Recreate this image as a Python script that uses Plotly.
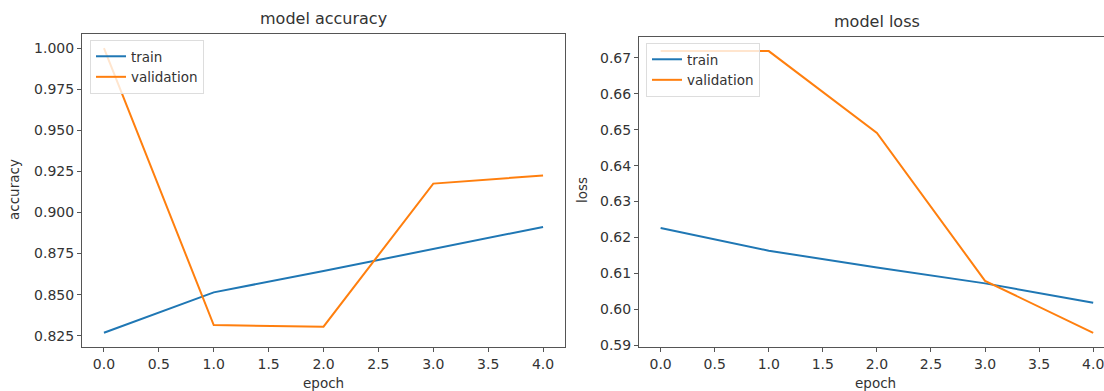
import plotly.graph_objects as go

epochs = [0, 1, 2, 3, 4]
acc_train = [0.8268, 0.8514, 0.8644, 0.8779, 0.8912]
acc_val = [1.0000, 0.8315, 0.8305, 0.9176, 0.9225]
loss_train = [0.6226, 0.6163, 0.6116, 0.6072, 0.6018]
loss_val = [0.6719, 0.6719, 0.6491, 0.6079, 0.5934]

W, H = 1104, 391
BLUE = "#1f77b4"
ORANGE = "#ff7f0e"
FONT = "DejaVu Sans"
TXT = "#333333"
SPINE = "#555555"

# pixel geometry of the two panels
L1, R1, T1, B1 = 82, 565, 34, 347
L2, R2, T2, B2 = 639, 1104, 37, 347

fig = go.Figure()
fig.add_trace(go.Scatter(x=epochs, y=acc_train, mode="lines", name="train",
                         line=dict(color=BLUE, width=2), xaxis="x", yaxis="y", legend="legend"))
fig.add_trace(go.Scatter(x=epochs, y=acc_val, mode="lines", name="validation",
                         line=dict(color=ORANGE, width=2), xaxis="x", yaxis="y", legend="legend"))
fig.add_trace(go.Scatter(x=epochs, y=loss_train, mode="lines", name="train",
                         line=dict(color=BLUE, width=2), xaxis="x2", yaxis="y2", legend="legend2"))
fig.add_trace(go.Scatter(x=epochs, y=loss_val, mode="lines", name="validation",
                         line=dict(color=ORANGE, width=2), xaxis="x2", yaxis="y2", legend="legend2"))

def pad(vals, frac=0.05):
    lo, hi = min(vals), max(vals)
    m = (hi - lo) * frac
    return [lo - m, hi + m]

axis_common = dict(showgrid=False, zeroline=False, showline=True, linecolor=SPINE, linewidth=1,
                   ticks="outside", ticklen=4, tickcolor=SPINE, automargin=False,
                   ticklabeloverflow="allow",
                   tickfont=dict(family=FONT, size=14, color=TXT))

fig.update_layout(
    width=W, height=H,
    margin=dict(l=0, r=0, t=0, b=0, pad=0, autoexpand=False),
    paper_bgcolor="white", plot_bgcolor="white",
    xaxis=dict(domain=[L1 / W, R1 / W], anchor="y", range=[-0.2, 4.2], dtick=0.5, tickformat=".1f",
               mirror=True, **axis_common),
    yaxis=dict(domain=[1 - B1 / H, 1 - T1 / H], anchor="x", range=pad(acc_train + acc_val),
               dtick=0.025, tickformat=".3f", mirror=True, **axis_common),
    xaxis2=dict(domain=[L2 / W, R2 / W], anchor="y2", range=[-0.2, 4.1], dtick=0.5, tickformat=".1f",
                mirror=True, **axis_common),
    yaxis2=dict(domain=[1 - B2 / H, 1 - T2 / H], anchor="x2", range=pad(loss_train + loss_val),
                dtick=0.01, tickformat=".2f", mirror=False, **axis_common),
    legend=dict(x=90 / W, y=1 - 40 / H, xanchor="left", yanchor="top",
                bgcolor="rgba(255,255,255,0.8)", bordercolor="#dddddd", borderwidth=1,
                font=dict(family=FONT, size=13.5, color=TXT)),
    legend2=dict(x=646 / W, y=1 - 43 / H, xanchor="left", yanchor="top",
                 bgcolor="rgba(255,255,255,0.8)", bordercolor="#dddddd", borderwidth=1,
                 font=dict(family=FONT, size=13.5, color=TXT)),
    showlegend=True,
)

annots = [
    dict(text="model accuracy", x=(L1 + R1) / 2 / W, y=1 - 18 / H, size=16),
    dict(text="model loss", x=(L2 + 1115) / 2 / W, y=1 - 22 / H, size=16),
    dict(text="epoch", x=(L1 + R1) / 2 / W, y=1 - 383 / H, size=13.5),
    dict(text="epoch", x=875 / W, y=1 - 383 / H, size=13.5),
]
for a in annots:
    fig.add_annotation(text=a["text"], x=a["x"], y=a["y"], xref="paper", yref="paper",
                       xanchor="center", yanchor="middle", showarrow=False,
                       font=dict(family=FONT, size=a["size"], color=TXT))
fig.add_annotation(text="accuracy", x=14 / W, y=1 - 190 / H, xref="paper", yref="paper",
                   xanchor="center", yanchor="middle", showarrow=False, textangle=-90,
                   font=dict(family=FONT, size=13.5, color=TXT))
fig.add_annotation(text="loss", x=582 / W, y=1 - 190 / H, xref="paper", yref="paper",
                   xanchor="center", yanchor="middle", showarrow=False, textangle=-90,
                   font=dict(family=FONT, size=13.5, color=TXT))

fig.write_html("out.html", config={"displayModeBar": False},
               post_script="document.body.style.margin='0';document.body.style.overflow='hidden';")
